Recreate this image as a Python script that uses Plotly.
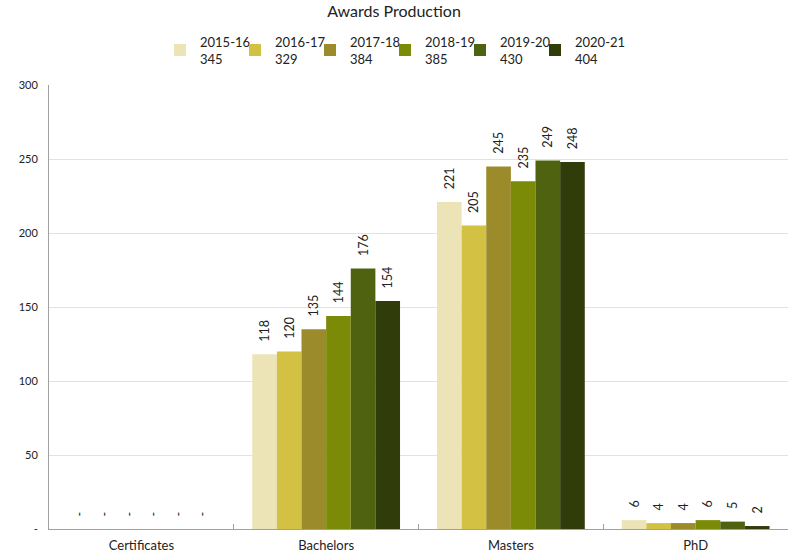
import plotly.graph_objects as go

categories = ["Certificates", "Bachelors", "Masters", "PhD"]
years = ["2015-16", "2016-17", "2017-18", "2018-19", "2019-20", "2020-21"]
totals = [345, 329, 384, 385, 430, 404]
v2015 = [0, 118, 221, 6]
v2016 = [0, 120, 205, 4]
v2017 = [0, 135, 245, 4]
v2018 = [0, 144, 235, 6]
v2019 = [0, 176, 249, 5]
v2020 = [0, 154, 248, 2]
series = [v2015, v2016, v2017, v2018, v2019, v2020]
colors = ["#ECE4B7", "#D3C143", "#9C8B2B", "#7B8B08", "#4E6210", "#303C0A"]

font_family = "Lato, 'Open Sans', sans-serif"
PAD = "\u00a0\u00a0\u00a0"

fig = go.Figure()
for yr, tot, vals, col in zip(years, totals, series, colors):
    fig.add_trace(go.Bar(
        x=categories, y=vals, name=f"{yr}<br>{tot}",
        marker=dict(color=col, line=dict(width=0)),
        text=[PAD + ("-" if v == 0 else str(v)) for v in vals],
        textposition="outside", textangle=-90, constraintext="none",
        textfont=dict(size=12.5, color="#222222", family=font_family),
        cliponaxis=False,
    ))
# invisible spacer legend entry (scatter, so it takes no bar slot)
fig.add_trace(go.Scatter(x=[None], y=[None], name=" ", showlegend=True, mode="markers",
                         marker=dict(color="rgba(0,0,0,0)", size=1), hoverinfo="skip"))

fig.update_layout(
    width=788, height=555,
    barmode="group", bargap=0.2, bargroupgap=0,
    plot_bgcolor="white", paper_bgcolor="white",
    margin=dict(l=49, r=0, t=85, b=26, autoexpand=False),
    font=dict(family=font_family, color="#222222"),
    title=dict(text="Awards Production", x=0.5, xref="container", xanchor="center",
               y=0.9895, yref="container", yanchor="top",
               font=dict(size=16, color="#222222")),
    legend=dict(orientation="h", x=160 / 788, xref="container", xanchor="left",
                y=0.952, yref="container", yanchor="top",
                font=dict(size=13), entrywidth=30, itemwidth=30,
                traceorder="normal"),
    showlegend=True,
)
fig.update_xaxes(showline=True, linecolor="#a0a0a0", linewidth=1,
                 ticks="inside", tickson="boundaries", ticklen=5, tickcolor="#a0a0a0",
                 tickfont=dict(size=13), showgrid=False, ticklabelstandoff=4)
fig.update_yaxes(range=[0, 300], tickvals=[0, 50, 100, 150, 200, 250, 300],
                 ticktext=["-", "50", "100", "150", "200", "250", "300"],
                 showline=True, linecolor="#a0a0a0", linewidth=1,
                 gridcolor="#e2e2e2", gridwidth=1, zeroline=False,
                 tickfont=dict(size=11), ticklabelstandoff=8)

fig.write_html("out.html", config={"displayModeBar": False},
               post_script="document.body.style.margin='0';document.body.style.padding='0';")
